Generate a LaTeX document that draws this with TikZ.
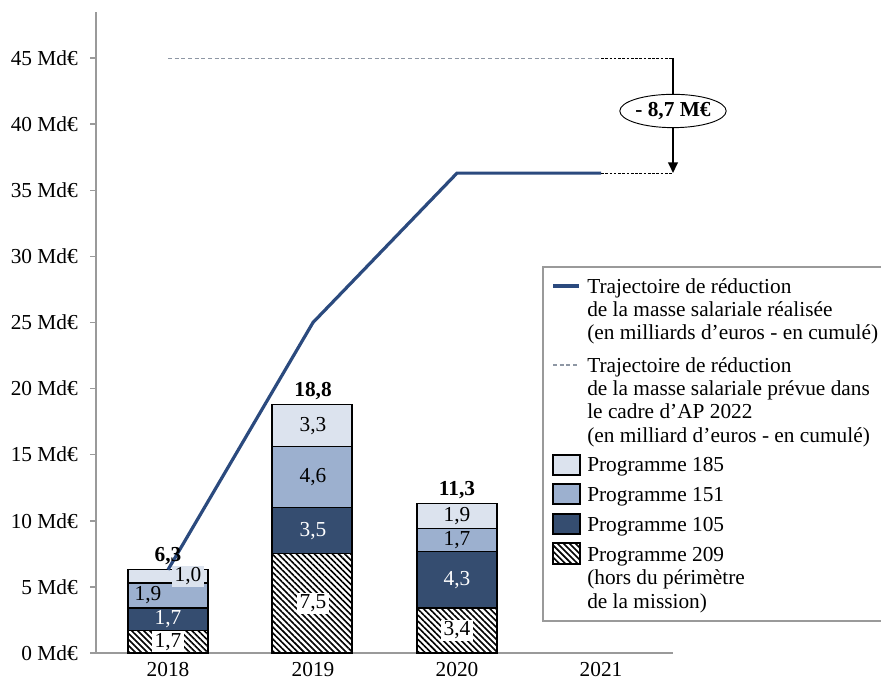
\documentclass[tikz,border=0pt]{standalone}
\usepackage{fontspec}
\setmainfont{Liberation Serif}
\usetikzlibrary{arrows.meta,shapes.geometric,patterns.meta}

\definecolor{progA}{HTML}{DCE3EE}
\definecolor{progB}{HTML}{9CB0CF}
\definecolor{progC}{HTML}{354D70}
\definecolor{trajblue}{HTML}{2B4A7E}
\definecolor{plangray}{HTML}{8E97A4}
\definecolor{axisgray}{HTML}{9A9A9A}

\newcommand\chartsize{\fontsize{16}{17.5}\selectfont}

\tikzset{
  axisline/.style={axisgray, line width=1.1pt},
  bar/.style={draw=black, line width=0.9pt},
  hatch/.style={bar, pattern={Lines[angle=-45,distance=3.2pt,line width=1.2pt]}},
  val/.style={inner xsep=2pt, inner ysep=1.5pt},
  tot/.style={above, font=\chartsize\bfseries},
  realline/.style={trajblue, line width=2.4pt},
  planline/.style={plangray, line width=0.8pt, dash pattern=on 3pt off 2pt},
  legtext/.style={anchor=north west, inner sep=0pt, align=left},
}

\begin{document}
\begin{tikzpicture}[x=0.75pt,y=-0.75pt,font=\chartsize]
\useasboundingbox (0,0) rectangle (881,680);

\begin{scope}[shift={(0,653)},y=9.915pt]
  % axes
  \draw[axisline] (96,0) -- (96,48.5);
  \draw[axisline] (90,0) -- (673,0);
  \foreach \v in {5,10,...,45}
    \draw[axisline] (90,\v) -- (96,\v);
  \foreach \v in {0,5,...,45}
    \node[anchor=east, inner sep=0pt] (tick\v) at (78,\v) {\v~Md€};

  % stacked bars
  \foreach \xl/\a/\b/\c/\d in {128/1.7/3.4/5.3/6.3, 272/7.5/11/15.6/18.8, 417/3.4/7.7/9.4/11.3} {
    \draw[hatch] (\xl,0) rectangle (\xl+80,\a);
    \draw[bar, fill=progC] (\xl,\a) rectangle (\xl+80,\b);
    \draw[bar, fill=progB] (\xl,\b) rectangle (\xl+80,\c);
    \draw[bar, fill=progA] (\xl,\c) rectangle (\xl+80,\d);
  }

  % trajectories
  \draw[realline] (168,6.3) -- (313,25) -- (457,36.3) -- (601,36.3);
  \draw[planline] (168,45) -- (601,45);
  \coordinate (top) at (673,45);
  \coordinate (low) at (673,36.3);
  \draw[line width=0.6pt, dash pattern=on 2pt off 1.2pt] (601,45) -- (top);
  \draw[line width=0.6pt, dash pattern=on 2pt off 1.2pt] (601,36.3) -- (low);
  \node[ellipse, draw, fill=white, line width=0.7pt, inner sep=0pt, minimum width=76pt, minimum height=25pt] (gap) at (673,41) {\bfseries - 8,7 M€};
  \draw[line width=1.8pt] (top) -- (gap);
  \draw[line width=1.8pt, -{Triangle[length=8pt,width=7pt]}] (gap) -- (low);

  % values 2018
  \node[val, fill=white] (a209) at (168,0.85) {1,7};
  \node[val, text=white] (a105) at (168,2.55) {1,7};
  \node[val] (a151) at (148,4.35) {1,9};
  \node[val, fill=progA] (a185) at (188,5.8) {1,0};
  \node[tot] (atot) at (168,6.3) {6,3};
  % values 2019
  \node[val, fill=white] (b209) at (313,3.75) {7,5};
  \node[val, text=white] (b105) at (313,9.25) {3,5};
  \node[val] (b151) at (313,13.3) {4,6};
  \node[val] (b185) at (313,17.2) {3,3};
  \node[tot] (btot) at (313,18.8) {18,8};
  % values 2020
  \node[val, fill=white] (c209) at (457,1.7) {3,4};
  \node[val, text=white] (c105) at (457,5.55) {4,3};
  \node[val] (c151) at (457,8.55) {1,7};
  \node[val] (c185) at (457,10.35) {1,9};
  \node[tot] (ctot) at (457,11.3) {11,3};
\end{scope}

\node (y2018) at (168,670) {2018};
\node (y2019) at (313,670) {2019};
\node (y2020) at (457,670) {2020};
\node (y2021) at (601,670) {2021};

% legend
\draw[axisline, fill=white] (543,267) rectangle (895,621);
\draw[realline] (553,286) -- (579,286);
\node[legtext] (legreal) at (587,278) {Trajectoire de réduction\\de la masse salariale réalisée\\(en milliards d’euros - en cumulé)};
\draw[planline] (553,365) -- (579,365);
\node[legtext] (legplan) at (587,357) {Trajectoire de réduction\\de la masse salariale prévue dans\\le cadre d’AP 2022\\(en milliard d’euros - en cumulé)};
\draw[bar, fill=progA] (553,455) rectangle (580,475);
\node[legtext] (leg185) at (587,457) {Programme 185};
\draw[bar, fill=progB] (553,484) rectangle (580,504);
\node[legtext] (leg151) at (587,487) {Programme 151};
\draw[bar, fill=progC] (553,514) rectangle (580,534);
\node[legtext] (leg105) at (587,517) {Programme 105};
\draw[hatch] (553,543) rectangle (580,564);
\node[legtext] (leg209) at (587,547) {Programme 209\\(hors du périmètre\\de la mission)};
\end{tikzpicture}
\end{document}
